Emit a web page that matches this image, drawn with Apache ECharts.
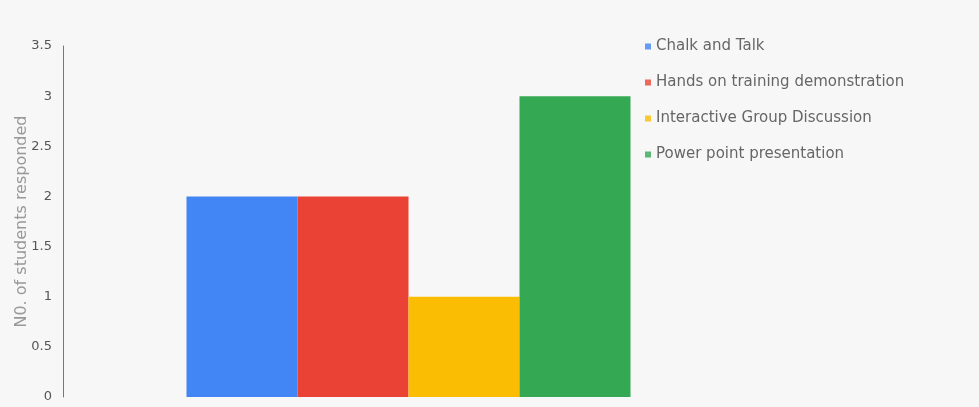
<!DOCTYPE html>
<html>
<head>
<meta charset="utf-8">
<script src="https://cdn.jsdelivr.net/npm/echarts@6/dist/echarts.min.js"></script>
<style>
  html, body { margin: 0; padding: 0; background: #f7f7f7; }
  #chart { width: 979px; height: 407px; }
</style>
</head>
<body>
<div id="chart"></div>
<script>
// chart data
var methods = ["Chalk and Talk", "Hands on training demonstration", "Interactive Group Discussion", "Power point presentation"];
var responses = [2, 2, 1, 3];
var colors = ["#4285f4", "#ea4335", "#fbbc04", "#34a853"];

var chart = echarts.init(document.getElementById("chart"));

var series = methods.map(function (name, i) {
  return {
    name: name,
    type: "bar",
    data: [responses[i]],
    barWidth: 111,
    barGap: "0%",
    itemStyle: { color: colors[i] }
  };
});

chart.setOption({
  backgroundColor: "#f7f7f7",
  textStyle: { fontFamily: "DejaVu Sans, sans-serif" },
  grid: { left: 63, right: 225, top: 46, bottom: 10, containLabel: false, outerBoundsMode: "none" },
  legend: {
    orient: "vertical",
    left: 640,
    top: 34,
    icon: "rect",
    itemWidth: 6,
    itemHeight: 6,
    itemGap: 21,
    itemStyle: { opacity: 0.8 },
    textStyle: { color: "#666", fontSize: 15 },
    data: methods
  },
  xAxis: {
    type: "category",
    data: [""],
    axisLine: { show: false },
    axisTick: { show: false },
    axisLabel: { show: false }
  },
  yAxis: {
    type: "value",
    min: 0,
    max: 3.5,
    interval: 0.5,
    name: "N0. of students responded",
    nameLocation: "middle",
    nameGap: 33,
    nameMoveOverlap: false,
    nameTextStyle: { color: "#999", fontSize: 16 },
    axisLine: { show: true, lineStyle: { color: "#777", width: 1 } },
    axisTick: { show: false },
    splitLine: { show: false },
    axisLabel: { color: "#555", fontSize: 13, margin: 11 }
  },
  series: series
});
</script>
</body>
</html>
